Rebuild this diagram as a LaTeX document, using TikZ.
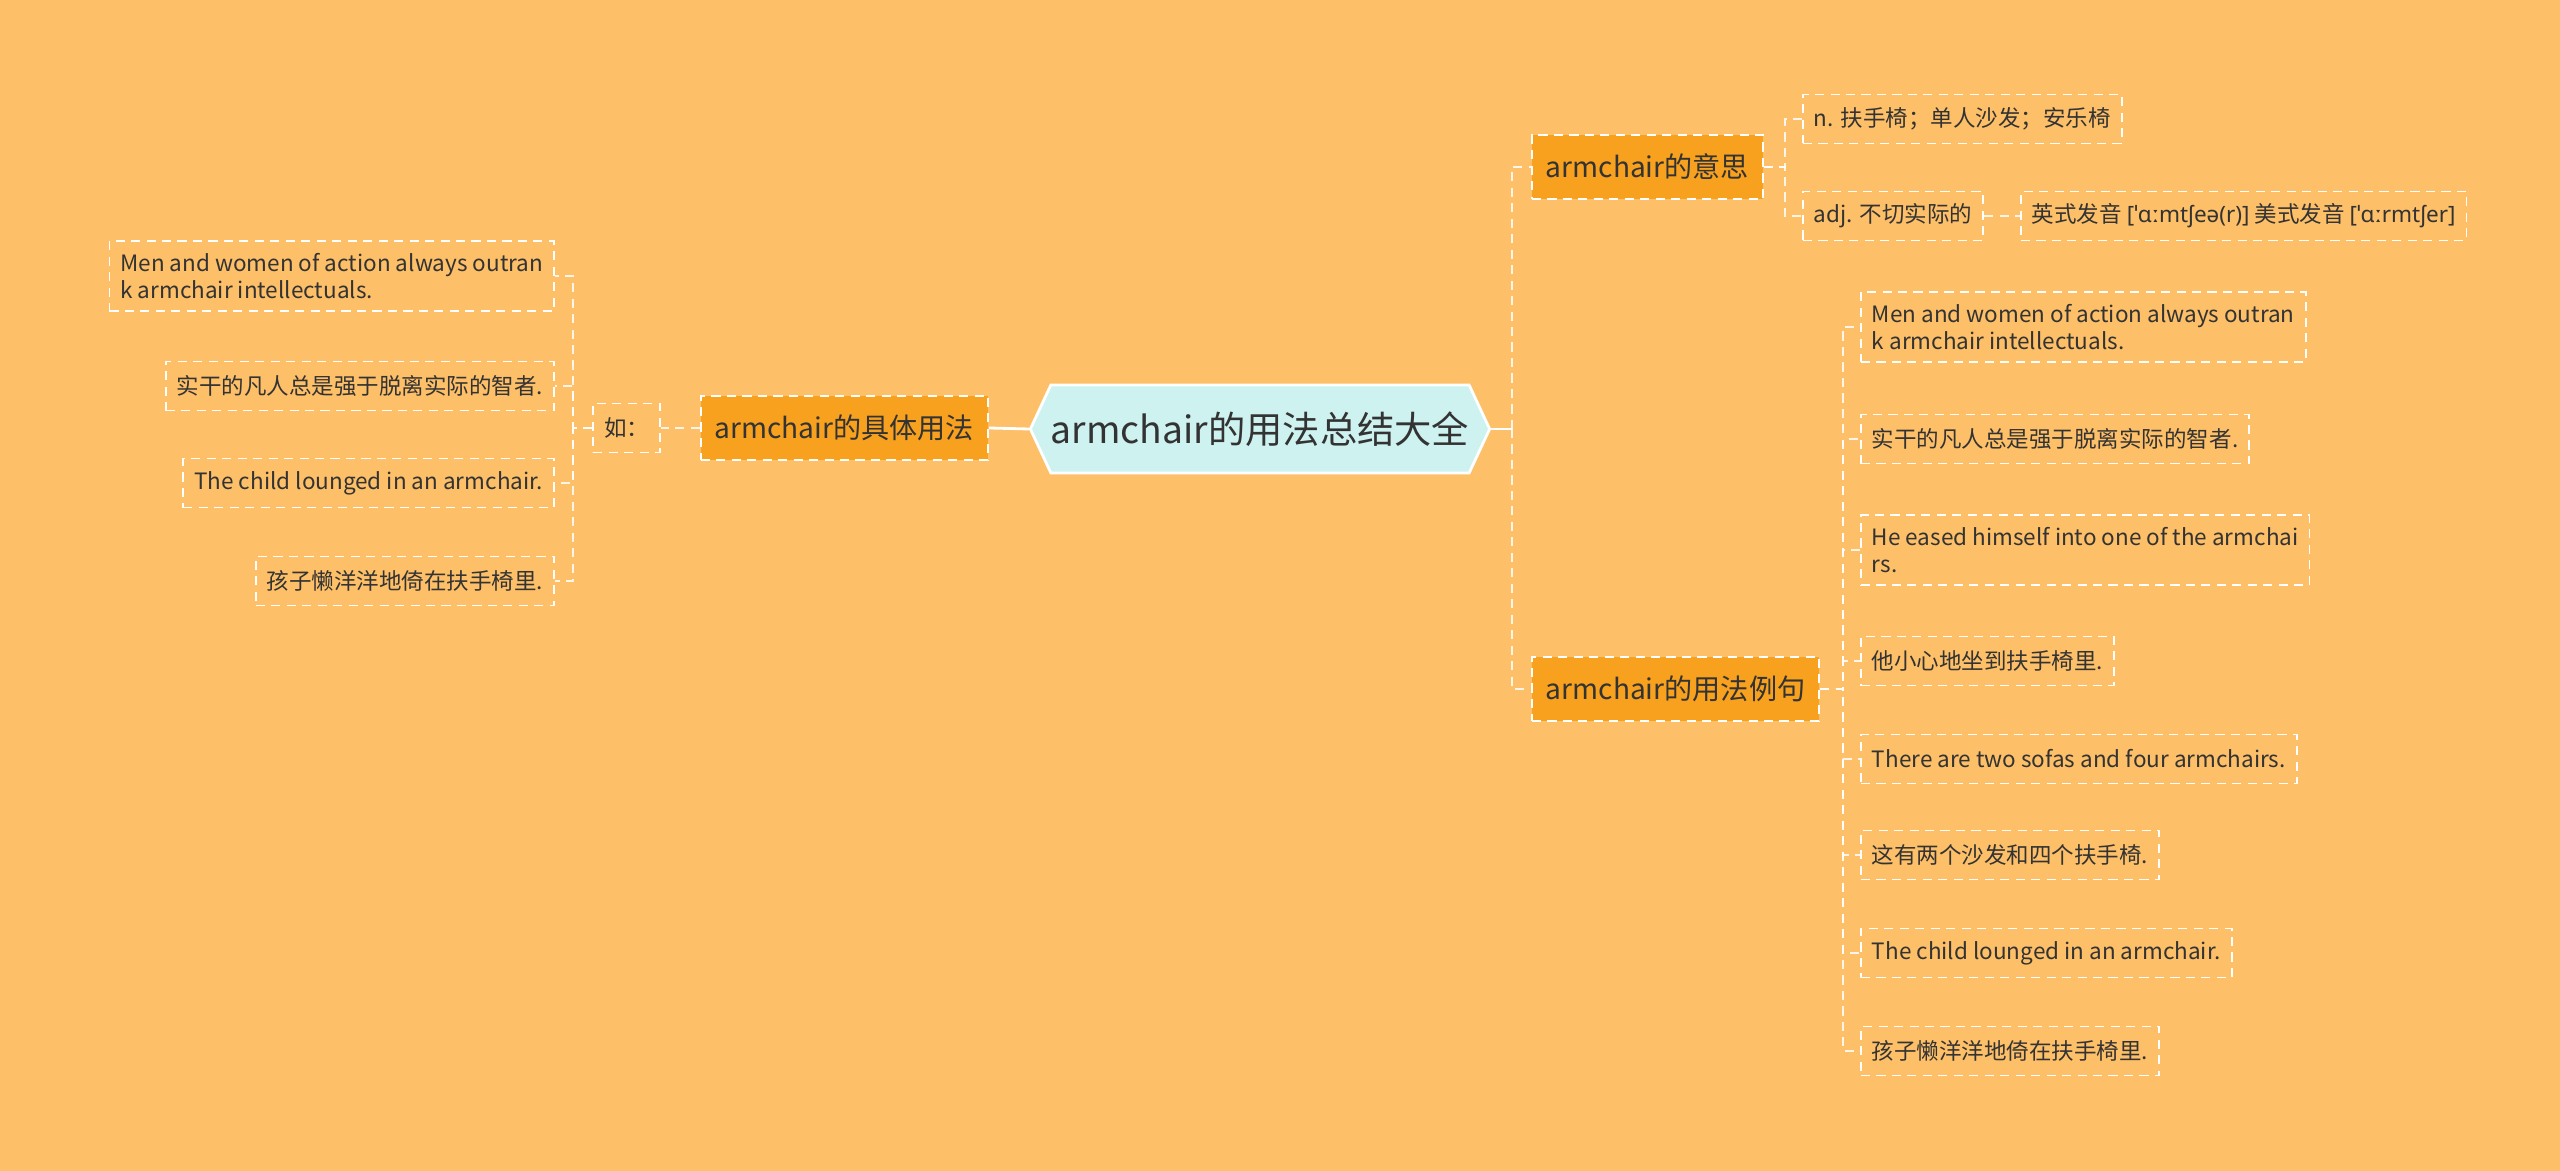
\documentclass[tikz,border=0pt]{standalone}
\usepackage{fontspec}
\setmainfont{Noto Sans CJK SC}
\newfontfamily\ipafont{Noto Sans}
\usepackage{tikz}
\usetikzlibrary{positioning,calc,shapes.symbols}
\definecolor{bgorange}{HTML}{FDBF68}
\definecolor{branchfill}{HTML}{F8A11E}
\definecolor{rootfill}{HTML}{CDF2F0}
\definecolor{txt}{HTML}{333333}
\newcommand{\lnode}[3]{\node [leaf, anchor=east] (#1) at (555,#2) {#3}}
\newcommand{\rnode}[3]{\node [leaf, anchor=west] (#1) at (1860,#2) {#3}}

\begin{document}
\begin{tikzpicture}[x=0.01cm, y=-0.01cm,
  leaf/.style={draw=white, dash pattern=on 2.6pt off 1.8pt, line width=0.5pt, text=txt,
    font=\fontsize{6.4pt}{7.9pt}\selectfont, align=left, inner xsep=0.11cm, minimum height=0.49cm},
  branch/.style={leaf, fill=branchfill, font=\fontsize{8pt}{10pt}\selectfont,
    inner xsep=0.14cm, minimum height=0.64cm},
  link/.style={white, line width=0.8pt},
  dlink/.style={white, opacity=0.85, line width=0.5pt, dash pattern=on 2.6pt off 1.8pt}]
\fill[bgorange] (0,0) rectangle (2560,1171);

\node [signal, signal to=west and east, signal pointer angle=130, draw=white, line width=0.8pt,
  fill=rootfill, text=txt, font=\fontsize{10.6pt}{12pt}\selectfont, inner xsep=0pt,
  minimum height=0.88cm] (ROOT) at (1260,429) {armchair的用法总结大全};

% left side
\node [branch, anchor=east] (USE) at (989,428) {armchair的具体用法};
\node [leaf, anchor=east] (RU) at (661,428) {如：};
\lnode{L1}{276}{Men and women of action always outran\\k armchair intellectuals.};
\lnode{L2}{386}{实干的凡人总是强于脱离实际的智者.};
\lnode{L3}{483}{The child lounged in an armchair.};
\lnode{L4}{581}{孩子懒洋洋地倚在扶手椅里.};

\draw[link] (ROOT.west) -- (USE.east);
\draw[dlink] (USE.west) -- (RU.east);
\foreach \n in {L1,L2,L3,L4}
  \draw[dlink] (RU.west) -- ++(-19,0) |- (\n.east);

% right side
\node [branch, anchor=west] (MEAN) at (1531,167) {armchair的意思};
\node [branch, anchor=west] (EX) at (1531,689) {armchair的用法例句};
\node [leaf, anchor=west] (M1) at (1802,119) {n. 扶手椅；单人沙发；安乐椅};
\node [leaf, anchor=west] (M2) at (1802,216) {adj. 不切实际的};
\node [leaf, anchor=west] (PRON) at (2020,216) {英式发音 {\ipafont[ˈɑːmtʃeə(r)]} 美式发音 {\ipafont[ˈɑːrmtʃer]}};
\rnode{E1}{327}{Men and women of action always outran\\k armchair intellectuals.};
\rnode{E2}{439}{实干的凡人总是强于脱离实际的智者.};
\rnode{E3}{550}{He eased himself into one of the armchai\\rs.};
\rnode{E4}{661}{他小心地坐到扶手椅里.};
\rnode{E5}{759}{There are two sofas and four armchairs.};
\rnode{E6}{855}{这有两个沙发和四个扶手椅.};
\rnode{E7}{953}{The child lounged in an armchair.};
\rnode{E8}{1051}{孩子懒洋洋地倚在扶手椅里.};

\coordinate (FORK) at ([xshift=0.21cm]ROOT.east);
\draw[link] (ROOT.east) -- (FORK);
\draw[dlink] (FORK) |- (MEAN.west);
\draw[dlink] (FORK) |- (EX.west);
\draw[dlink] (MEAN.east) -- ++(21,0) |- (M1.west);
\draw[dlink] (MEAN.east) -- ++(21,0) |- (M2.west);
\draw[dlink] (M2.east) -- (PRON.west);
\foreach \n in {E1,E2,E3,E4,E5,E6,E7,E8}
  \draw[dlink] (EX.east) -- ++(23,0) |- (\n.west);

\end{tikzpicture}
\end{document}
